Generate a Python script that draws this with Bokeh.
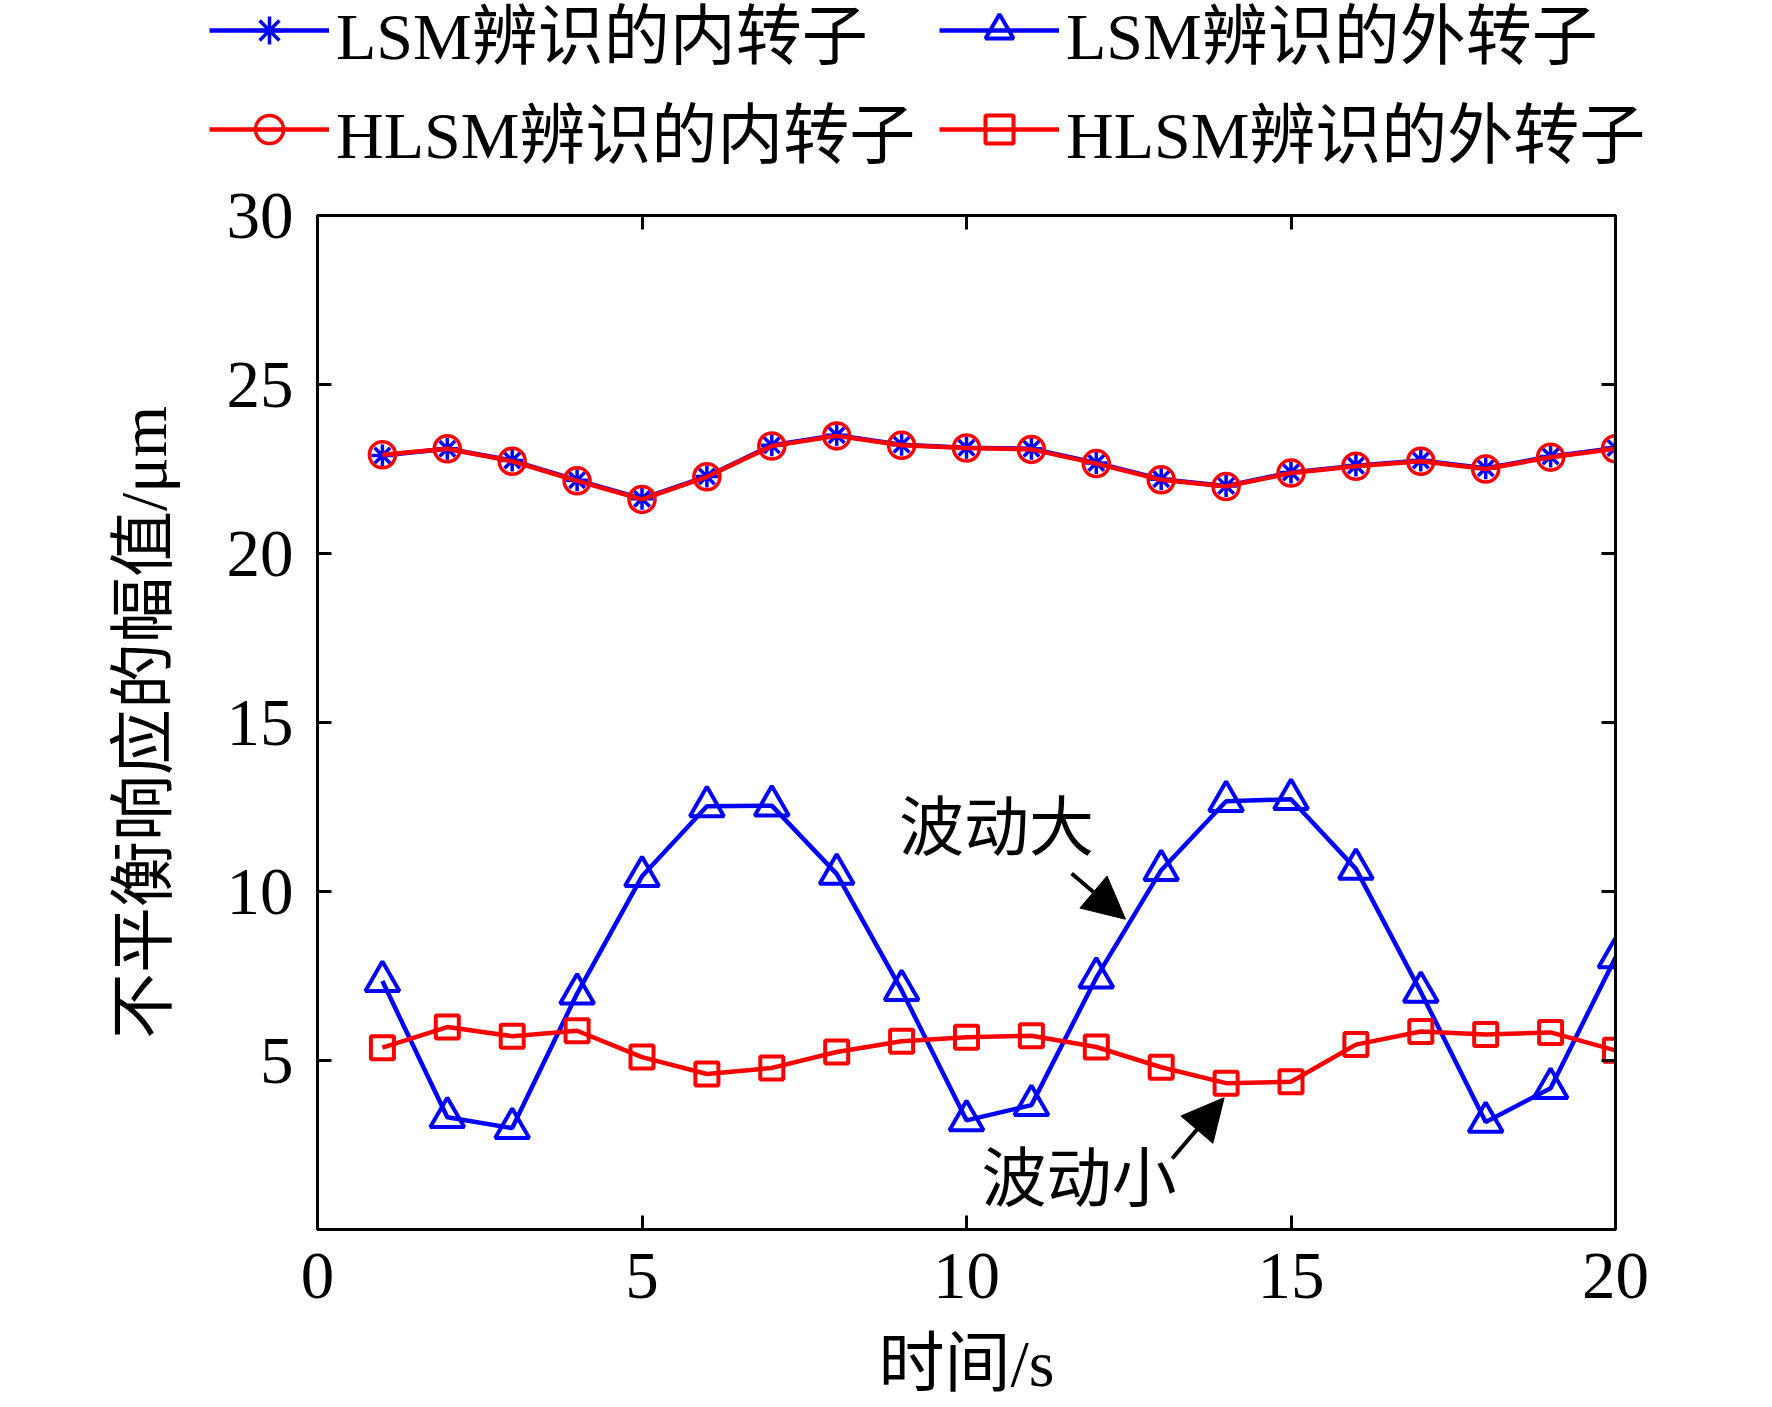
from bokeh.plotting import figure
from bokeh.layouts import column
from bokeh.models import (Range1d, LinearAxis, Legend, LegendItem, Arrow, NormalHead,
                          FixedTicker, CustomJSTickFormatter)
from bokeh.core.properties import value
from bokeh.embed import file_html
from bokeh.resources import INLINE

# time in s
t = list(range(1, 21))

# inner rotor, identified by LSM and by HLSM (practically the same curve)
lsm_inner = [22.9, 23.1, 22.75, 22.17, 21.62, 22.28, 23.2, 23.5, 23.22, 23.13,
             23.1, 22.68, 22.2, 22.0, 22.4, 22.6, 22.75, 22.52, 22.87, 23.12]
hlsm_inner = [22.92, 23.1, 22.73, 22.15, 21.6, 22.27, 23.18, 23.48, 23.2, 23.12,
              23.08, 22.66, 22.18, 21.98, 22.38, 22.58, 22.73, 22.5, 22.85, 23.1]

# outer rotor
lsm_outer = [7.35, 3.32, 3.0, 6.98, 10.45, 12.52, 12.54, 10.52, 7.08, 3.23,
             3.68, 7.45, 10.63, 12.67, 12.73, 10.67, 7.03, 3.18, 4.18, 8.05]
hlsm_outer = [5.38, 5.99, 5.72, 5.88, 5.1, 4.6, 4.78, 5.25, 5.57, 5.69,
              5.73, 5.4, 4.8, 4.33, 4.37, 5.47, 5.86, 5.77, 5.83, 5.3]

x_ticks = [0, 5, 10, 15, 20]
y_ticks = [5, 10, 15, 20, 25, 30]

legend_labels = ["LSM辨识的内转子", "LSM辨识的外转子", "HLSM辨识的内转子", "HLSM辨识的外转子"]

# annotations: (text, x, y) and arrows (x0, y0, x1, y1)
notes = [("波动大", 8.96, 11.87), ("波动小", 10.23, 1.5)]
arrows = [(11.62, 10.53, 12.45, 9.18), (13.17, 2.1, 13.97, 3.9)]

FONT = "Liberation Serif, Noto Sans CJK SC"
BLUE = "#0000FF"
RED = "#FF0000"


def add_series(f):
    # same styling in the main plot and in the legend strip
    r1l = f.line(t, lsm_inner, line_color=BLUE, line_width=4.5)
    r1m = f.scatter(t, lsm_inner, marker="asterisk", size=22, line_color=BLUE, line_width=3.5)
    r3l = f.line(t, hlsm_inner, line_color=RED, line_width=4.5)
    r3m = f.scatter(t, hlsm_inner, marker="circle", size=26, line_color=RED, line_width=3.5,
                    fill_alpha=0)
    r2l = f.line(t, lsm_outer, line_color=BLUE, line_width=4.5)
    r2m = f.scatter(t, lsm_outer, marker="triangle", size=34, line_color=BLUE, line_width=4,
                    fill_alpha=0)
    r4l = f.line(t, hlsm_outer, line_color=RED, line_width=4.5)
    r4m = f.scatter(t, hlsm_outer, marker="square", size=23, line_color=RED, line_width=4,
                    fill_alpha=0)
    return [[r1l, r1m], [r2l, r2m], [r3l, r3m], [r4l, r4m]]


p = figure(frame_width=1298, frame_height=1014, output_backend="svg", toolbar_location=None,
           x_range=Range1d(0, 20), y_range=Range1d(0, 30),
           min_border_left=317, min_border_right=157, min_border_top=35, min_border_bottom=178)
p.xgrid.visible = False
p.ygrid.visible = False
p.outline_line_color = "black"
p.outline_line_width = 3
p.background_fill_color = "white"
p.border_fill_color = "white"

p.xaxis.ticker = FixedTicker(ticks=x_ticks)
p.yaxis.ticker = FixedTicker(ticks=y_ticks)
p.xaxis.axis_label = "时间/s"
p.yaxis.axis_label = "不平衡响应的幅值/μm"
for ax in [p.xaxis[0], p.yaxis[0]]:
    ax.axis_line_width = 3
    ax.major_tick_line_width = 3
    ax.major_tick_in = 14
    ax.major_tick_out = 0
    ax.minor_tick_line_color = None
    ax.major_label_text_font = FONT
    ax.major_label_text_font_size = "67px"
    ax.major_label_text_color = "black"
    ax.axis_label_text_font = FONT
    ax.axis_label_text_font_size = "66px"
    ax.axis_label_text_font_style = "normal"
    ax.axis_label_text_color = "black"
    ax.axis_label_text_line_height = 1.0
p.xaxis.major_label_standoff = 24
p.xaxis.axis_label_standoff = 26
p.yaxis.major_label_standoff = 24
p.yaxis.axis_label_standoff = 44

# mirrored ticks on top and right
for loc, tk in [("above", x_ticks), ("right", y_ticks)]:
    ax = LinearAxis(ticker=FixedTicker(ticks=tk),
                    formatter=CustomJSTickFormatter(code="return ''"),
                    axis_line_width=3, major_tick_line_width=3,
                    major_tick_in=14, major_tick_out=0, minor_tick_line_color=None,
                    major_label_standoff=0, major_label_text_font_size="1px")
    p.add_layout(ax, loc)

add_series(p)

for txt, x, y in notes:
    p.text(x=[x], y=[y], text=[txt], text_font=value(FONT), text_font_size="65px",
           text_align="left", text_baseline="middle", text_color="black")
for x0, y0, x1, y1 in arrows:
    p.add_layout(Arrow(end=NormalHead(size=42, fill_color="black", line_color="black"),
                       x_start=x0, y_start=y0, x_end=x1, y_end=y1,
                       line_width=4, line_color="black"))

# legend strip above the plot; its ranges keep the series themselves out of view
lg = figure(width=1772, height=180, output_backend="svg", toolbar_location=None,
            x_range=Range1d(100, 101), y_range=Range1d(100, 101),
            x_axis_type=None, y_axis_type=None, min_border=0)
lg.xgrid.visible = False
lg.ygrid.visible = False
lg.outline_line_color = None
rends = add_series(lg)

legend = Legend(items=[LegendItem(label=lab, renderers=r) for lab, r in zip(legend_labels, rends)],
                location=(209, 3), orientation="horizontal", ncols=2)
legend.label_text_font = FONT
legend.label_text_font_size = "66px"
legend.label_text_color = "black"
legend.glyph_width = 120
legend.glyph_height = 70
legend.label_height = 70
legend.label_width = 600
legend.label_standoff = 7
legend.spacing = 3
legend.padding = 0
legend.margin = 0
legend.border_line_color = None
legend.background_fill_alpha = 0
lg.add_layout(legend)

layout = column(column(lg), p, spacing=0)
open("out.html", "w").write(file_html(layout, INLINE))
